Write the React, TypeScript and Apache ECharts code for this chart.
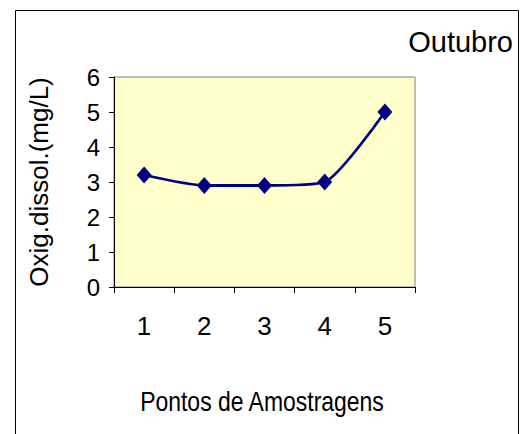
import React, { useEffect, useRef } from "react";
import * as echarts from "echarts";

const categories = ["1", "2", "3", "4", "5"];
const oxygenValues = [3.2, 2.9, 2.9, 3.0, 5.0];
const yTicks = [0, 1, 2, 3, 4, 5, 6];
const titleText = "Outubro";
const xName = "Pontos de Amostragens";
const yName = "Oxig.dissol.(mg/L)";

const FONT = "'Liberation Sans', Arial, sans-serif";

export default function App() {
  const ref = useRef<HTMLDivElement>(null);
  useEffect(() => {
    if (!ref.current) return;
    const chart = echarts.init(ref.current, null, { renderer: "svg" });
    chart.setOption({
      animation: false,
      backgroundColor: "#ffffff",
      graphic: [
        {
          type: "rect",
          shape: { x: 15.5, y: 10.5, width: 503, height: 440 },
          style: { fill: "none", stroke: "#000000", lineWidth: 1 },
          silent: true,
          z: 0,
        },
        {
          type: "text",
          x: 513,
          y: 42,
          style: {
            text: titleText,
            font: `29px ${FONT}`,
            fill: "#000000",
            align: "right",
            verticalAlign: "middle",
          },
        },
        {
          type: "text",
          x: 262,
          y: 401,
          scaleX: 0.82,
          style: {
            text: xName,
            font: `28px ${FONT}`,
            fill: "#000000",
            align: "center",
            verticalAlign: "middle",
          },
        },
      ],
      grid: {
        left: 114,
        top: 77,
        width: 301,
        height: 210,
        show: true,
        backgroundColor: "#FFFFCC",
        borderColor: "#808080",
        borderWidth: 1,
      },
      xAxis: {
        type: "category",
        data: categories,
        boundaryGap: true,
        axisLine: { lineStyle: { color: "#000", width: 1 } },
        axisTick: { show: true, length: 6, inside: false, lineStyle: { color: "#000" } },
        axisLabel: { fontFamily: FONT, fontSize: 26, color: "#000", margin: 26 },
        splitLine: { show: false },
      },
      yAxis: {
        type: "value",
        min: yTicks[0],
        max: yTicks[yTicks.length - 1],
        interval: 1,
        name: yName,
        nameLocation: "middle",
        nameRotate: 90,
        nameGap: 62,
        nameTextStyle: { fontFamily: FONT, fontSize: 26, color: "#000" },
        axisLine: { show: true, lineStyle: { color: "#000", width: 1 } },
        axisTick: { show: true, length: 5, lineStyle: { color: "#000" } },
        axisLabel: { fontFamily: FONT, fontSize: 24, color: "#000", margin: 14 },
        splitLine: { show: false },
      },
      series: [
        {
          type: "line",
          data: oxygenValues,
          smooth: 0.2,
          symbol: "diamond",
          symbolSize: [15, 17],
          lineStyle: { color: "#000080", width: 2.8 },
          itemStyle: { color: "#000080" },
        },
      ],
    });
    return () => chart.dispose();
  }, []);
  return (
    <div
      ref={ref}
      style={{ position: "absolute", left: 0, top: 0, width: 525, height: 434 }}
    />
  );
}
